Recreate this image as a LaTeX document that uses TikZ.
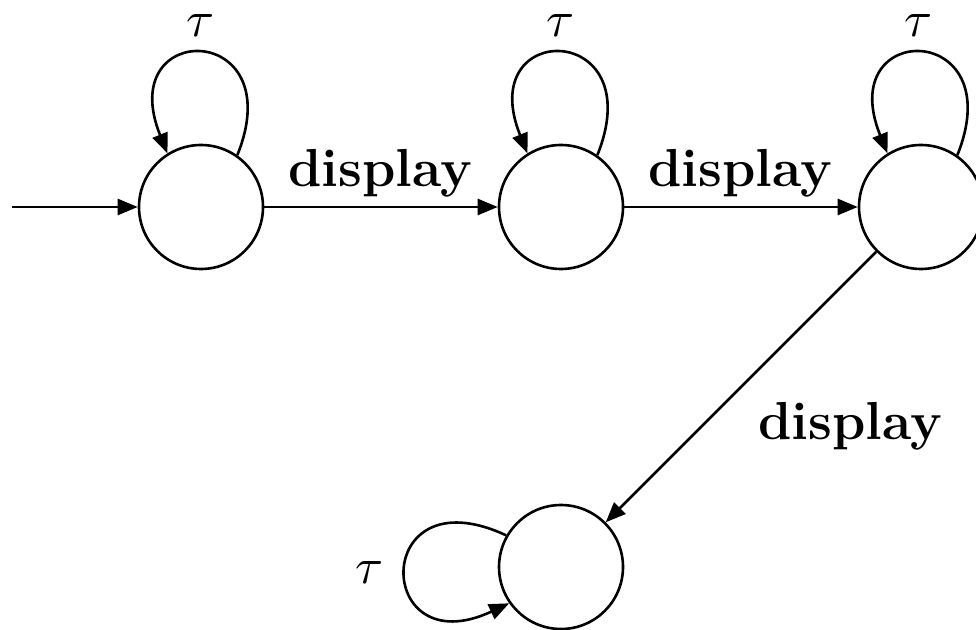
\documentclass[tikz,border=0pt]{standalone}
\usepackage{graphicx}
\usetikzlibrary{arrows.meta}
\begin{document}
\begin{tikzpicture}[x=1pt,y=1pt,
  state/.style={circle,draw,line width=2.6pt,minimum size=124pt,inner sep=0pt},
  edge/.style={line width=2.6pt,-{Triangle[length=20pt,width=16pt]}},
  lbl/.style={font=\fontsize{53.5}{60}\selectfont\bfseries,anchor=base,inner sep=0pt},
  tau/.style={anchor=base,inner sep=0pt}]
\useasboundingbox (0,0) rectangle (976,629);
\node[state] (n1) at (201,422) {};
\node[state] (n2) at (561,422) {};
\node[state] (n3) at (921,422) {};
\node[state] (n4) at (561,62) {};
\coordinate (s) at (12,422);
\draw[edge] (s) -- (n1);
\draw[edge] (n1) -- (n2);
\draw[edge] (n2) -- (n3);
\draw[edge] (n3) -- (n4);
\node[lbl] (l1) at (380,442) {display};
\node[lbl] (l2) at (740,442) {display};
\node[lbl] (l3) at (850,189) {display};
\draw[edge] (n1.55) to[out=68,in=112,distance=145pt] (n1.122);
\draw[edge] (n2.55) to[out=68,in=112,distance=145pt] (n2.122);
\draw[edge] (n3.55) to[out=68,in=112,distance=145pt] (n3.122);
\draw[edge] (n4.150) to[out=155,in=205,distance=150pt] (n4.215);
\node[tau] (t1) at (201,592) {\scalebox{5.1}{$\tau$}};
\node[tau] (t2) at (561,592) {\scalebox{5.1}{$\tau$}};
\node[tau] (t3) at (919,592) {\scalebox{5.1}{$\tau$}};
\node[tau] (t4) at (370,46) {\scalebox{5.1}{$\tau$}};
\end{tikzpicture}
\end{document}
